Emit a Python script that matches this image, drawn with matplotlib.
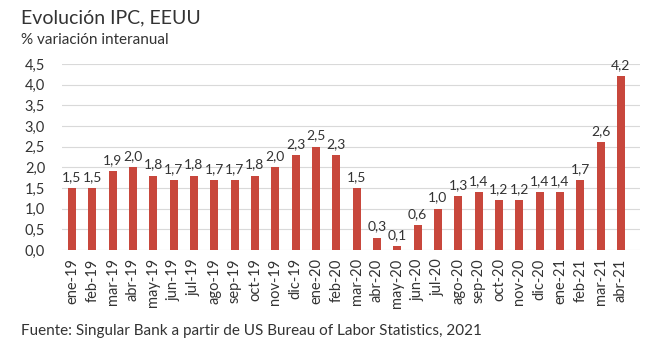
import matplotlib.pyplot as plt
import numpy as np

plt.rcParams['font.family'] = ['Lato', 'DejaVu Sans']

meses = ['ene-19', 'feb-19', 'mar-19', 'abr-19', 'may-19', 'jun-19', 'jul-19',
         'ago-19', 'sep-19', 'oct-19', 'nov-19', 'dic-19', 'ene-20', 'feb-20',
         'mar-20', 'abr-20', 'may-20', 'jun-20', 'jul-20', 'ago-20', 'sep-20',
         'oct-20', 'nov-20', 'dic-20', 'ene-21', 'feb-21', 'mar-21', 'abr-21']
ipc = [1.5, 1.5, 1.9, 2.0, 1.8, 1.7, 1.8, 1.7, 1.7, 1.8, 2.0, 2.3, 2.5, 2.3,
       1.5, 0.3, 0.1, 0.6, 1.0, 1.3, 1.4, 1.2, 1.2, 1.4, 1.4, 1.7, 2.6, 4.2]
yticks = [0.0, 0.5, 1.0, 1.5, 2.0, 2.5, 3.0, 3.5, 4.0, 4.5]

color = '#c8473c'
txt = '#333333'

fig = plt.figure(figsize=(6.5, 3.55), dpi=100)
ax = fig.add_axes([0.095, 0.296, 0.89, 0.524])
x = np.arange(len(meses))
ax.bar(x, ipc, width=0.4, color=color, zorder=3)
for xi, v in zip(x, ipc):
    ax.text(xi, v + 0.12, f'{v:.1f}'.replace('.', ','), ha='center', va='bottom',
            fontsize=10, color=txt, clip_on=False)

ax.set_xlim(-0.5, len(meses) - 0.05)
ax.set_ylim(0, 4.5)
ax.set_yticks(yticks)
ax.set_yticklabels([f'{t:.1f}'.replace('.', ',') for t in yticks], fontsize=10.5, color=txt)
ax.set_xticks(x)
ax.set_xticklabels(meses, rotation=90, fontsize=10.5, color=txt)
ax.tick_params(length=0, pad=6)
ax.tick_params(axis='y', pad=12)
ax.grid(axis='y', color='#d9d9d9', linewidth=0.8, zorder=0)
for s in ax.spines.values():
    s.set_visible(False)

fig.text(0.033, 0.935, 'Evolución IPC, EEUU', fontsize=14, color=txt)
fig.text(0.033, 0.875, '% variación interanual', fontsize=11, color=txt)
fig.text(0.033, 0.055, 'Fuente: Singular Bank a partir de US Bureau of Labor Statistics, 2021',
         fontsize=11, color=txt)

fig.savefig('out.png', dpi=100)
